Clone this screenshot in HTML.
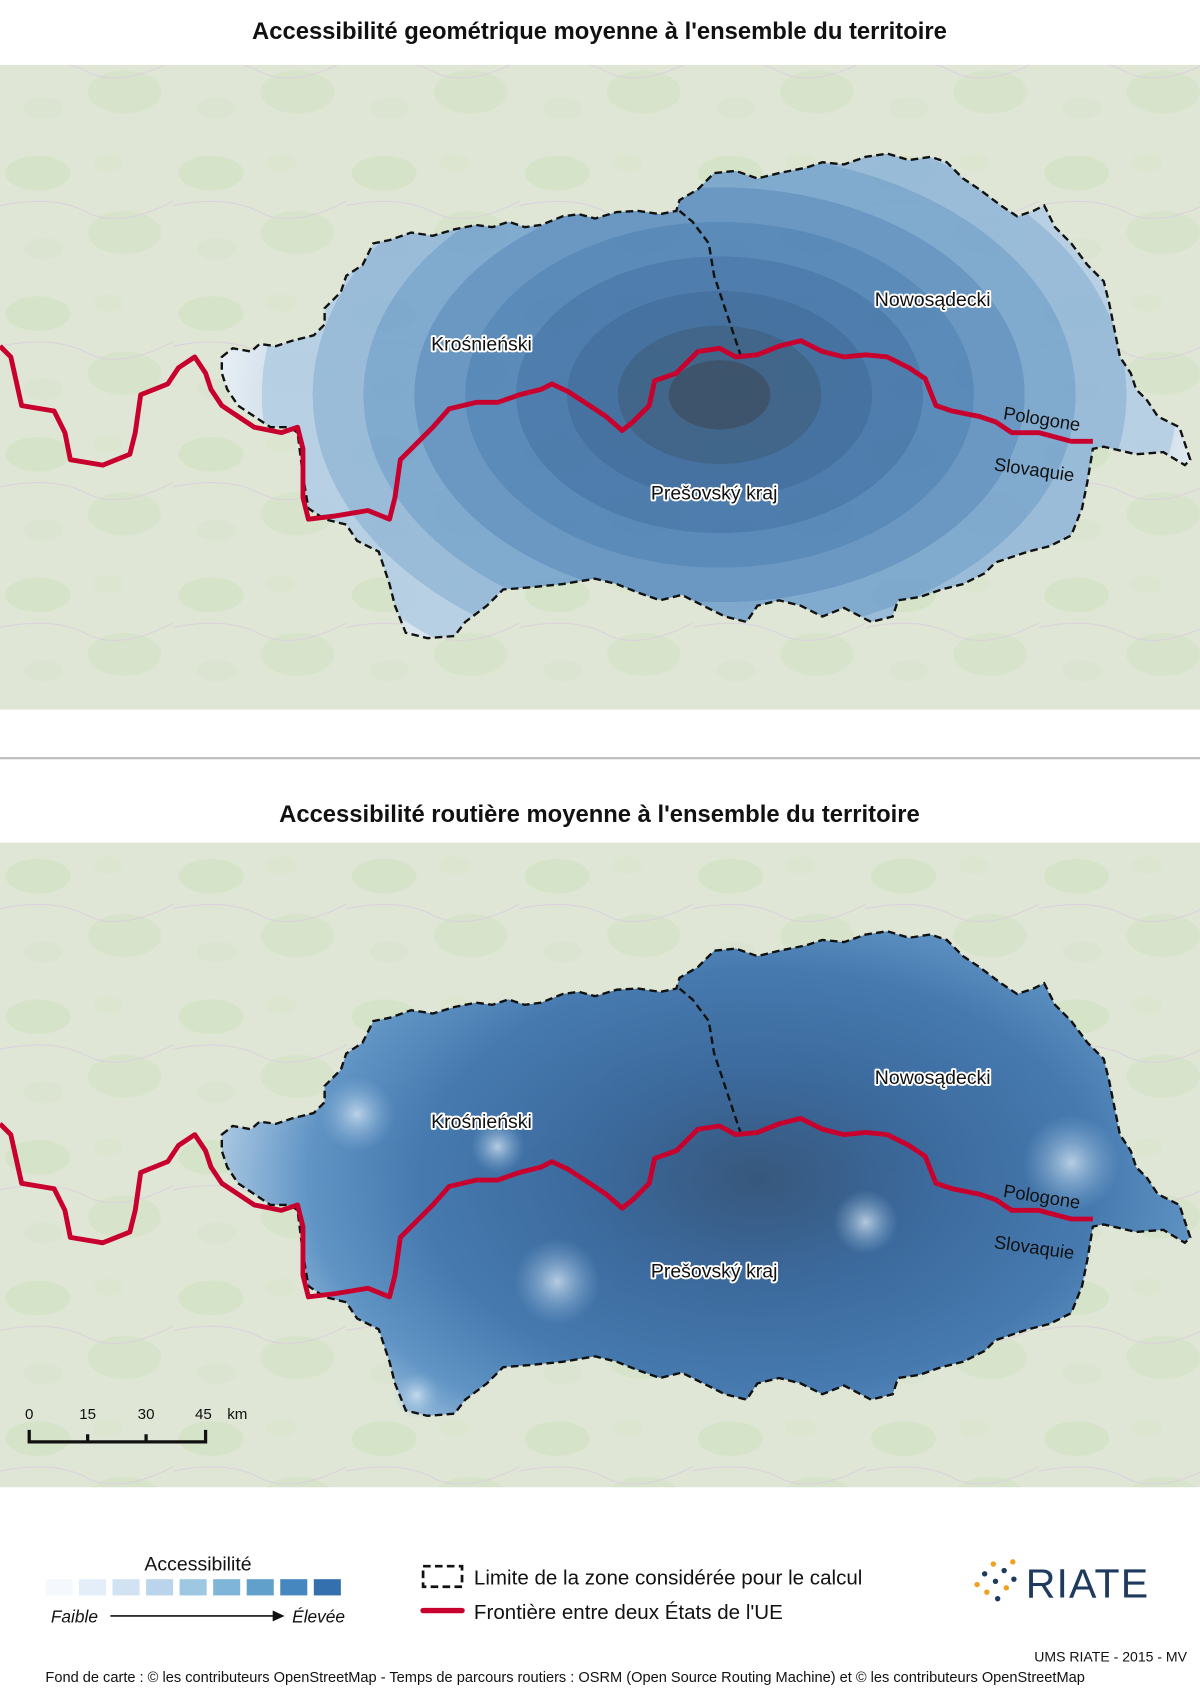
<!DOCTYPE html>
<html><head><meta charset="utf-8"><style>
html,body{margin:0;padding:0;background:#fff;}
svg{display:block;}
text{font-family:"Liberation Sans",sans-serif;}
.lbl{font-size:18px;fill:#111;stroke:#fff;stroke-width:3.5px;paint-order:stroke;stroke-linejoin:round;}
</style></head><body>
<svg id="page" width="1200" height="1696" viewBox="0 0 1109 1568" preserveAspectRatio="none" xmlns="http://www.w3.org/2000/svg">
<defs>
<radialGradient id="g1" gradientUnits="userSpaceOnUse" cx="665" cy="365" r="470" gradientTransform="translate(665 365) scale(1 0.68) translate(-665 -365)">
<stop offset="0" stop-color="#2c4462"/><stop offset="0.1" stop-color="#2c4462"/>
<stop offset="0.1" stop-color="#305882"/><stop offset="0.2" stop-color="#305882"/>
<stop offset="0.2" stop-color="#36659b"/><stop offset="0.3" stop-color="#36659b"/>
<stop offset="0.3" stop-color="#3f72a9"/><stop offset="0.4" stop-color="#3f72a9"/>
<stop offset="0.4" stop-color="#4c81b6"/><stop offset="0.5" stop-color="#4c81b6"/>
<stop offset="0.5" stop-color="#5e90c1"/><stop offset="0.6" stop-color="#5e90c1"/>
<stop offset="0.6" stop-color="#76a3cd"/><stop offset="0.7" stop-color="#76a3cd"/>
<stop offset="0.7" stop-color="#92b7d9"/><stop offset="0.8" stop-color="#92b7d9"/>
<stop offset="0.8" stop-color="#b3cde5"/><stop offset="0.9" stop-color="#b3cde5"/>
<stop offset="0.9" stop-color="#d5e3f0"/><stop offset="1" stop-color="#edf3f9"/>
</radialGradient>
<radialGradient id="g2" gradientUnits="userSpaceOnUse" cx="700" cy="1090" r="520" gradientTransform="translate(700 1090) scale(1 0.62) translate(-700 -1090)">
<stop offset="0" stop-color="#2e5078"/><stop offset="0.3" stop-color="#33639a"/>
<stop offset="0.6" stop-color="#3e74ad"/><stop offset="0.8" stop-color="#5a90c4"/>
<stop offset="1" stop-color="#b9d3ea"/>
</radialGradient>
<radialGradient id="spot"><stop offset="0" stop-color="#dceaf5" stop-opacity="0.75"/><stop offset="1" stop-color="#8fb8dc" stop-opacity="0"/></radialGradient>
<pattern id="terrain" width="160" height="130" patternUnits="userSpaceOnUse">
<rect width="160" height="130" fill="#dfe6d5"/>
<ellipse cx="35" cy="30" rx="30" ry="16" fill="#d2e1c4" opacity="0.7"/>
<ellipse cx="115" cy="85" rx="34" ry="20" fill="#d5e3c8" opacity="0.7"/>
<ellipse cx="100" cy="20" rx="14" ry="8" fill="#d8e5cc" opacity="0.6"/>
<ellipse cx="40" cy="100" rx="18" ry="10" fill="#dbe2d0" opacity="0.7"/>
<path d="M0 60 Q50 50 80 66 T160 56" stroke="#dccde0" stroke-width="0.8" fill="none"/>
</pattern>
</defs>
<text x="554" y="36" text-anchor="middle" font-size="22" font-weight="bold" fill="#111">Accessibilité geométrique moyenne à l'ensemble du territoire</text>
<rect x="0" y="60" width="1109" height="596" fill="url(#terrain)"/>
<g id="m1"></g>
<line x1="0" y1="701" x2="1109" y2="701" stroke="#bbb" stroke-width="2"/>
<text x="554" y="760" text-anchor="middle" font-size="22" font-weight="bold" fill="#111">Accessibilité routière moyenne à l'ensemble du territoire</text>
<rect x="0" y="779" width="1109" height="596" fill="url(#terrain)"/>
<g id="m2"></g>

<g font-size="14" fill="#111">
<text x="27" y="1312" text-anchor="middle">0</text><text x="81" y="1312" text-anchor="middle">15</text>
<text x="135" y="1312" text-anchor="middle">30</text><text x="188" y="1312" text-anchor="middle">45</text>
<text x="210" y="1312">km</text>
<path d="M27 1322 V1333 H190 V1322 M81 1326 V1333 M135 1326 V1333" stroke="#111" stroke-width="3" fill="none"/>
</g>

<g>
<text x="183" y="1452" text-anchor="middle" font-size="18" fill="#111">Accessibilité</text>
<g id="swatches"></g>
<text x="47" y="1500" font-size="16" font-style="italic" fill="#111">Faible</text>
<line x1="102" y1="1494" x2="255" y2="1494" stroke="#111" stroke-width="1.5"/>
<path d="M252 1489 L263 1494 L252 1499Z" fill="#111"/>
<text x="270" y="1500" font-size="16" font-style="italic" fill="#111">Élevée</text>
<rect x="391" y="1448" width="36" height="19" fill="none" stroke="#111" stroke-width="2.5" stroke-dasharray="7 4"/>
<text x="438" y="1465" font-size="19" fill="#111">Limite de la zone considérée pour le calcul</text>
<line x1="391" y1="1489" x2="427" y2="1489" stroke="#c8002d" stroke-width="5" stroke-linecap="round"/>
<text x="438" y="1497" font-size="19" fill="#111">Frontière entre deux États de l'UE</text>
</g>
<g>
<circle cx="903" cy="1465" r="2.5" fill="#f0a020"/><circle cx="910" cy="1455" r="2.5" fill="#1e3a5f"/><circle cx="912" cy="1472" r="2.5" fill="#f0a020"/>
<circle cx="918" cy="1446" r="2.5" fill="#f0a020"/><circle cx="920" cy="1462" r="2.5" fill="#1e3a5f"/><circle cx="922" cy="1478" r="2.5" fill="#1e3a5f"/>
<circle cx="928" cy="1452" r="2.5" fill="#1e3a5f"/><circle cx="930" cy="1468" r="2.5" fill="#f0a020"/><circle cx="936" cy="1444" r="2.5" fill="#f0a020"/><circle cx="937" cy="1460" r="2.5" fill="#1e3a5f"/>
<text x="948" y="1477" font-size="38" fill="#1e3a5f" letter-spacing="1">RIATE</text>
</g>
<text x="1097" y="1536" text-anchor="end" font-size="13" fill="#111">UMS RIATE - 2015 - MV</text>
<text x="42" y="1555" font-size="13.5" fill="#111">Fond de carte : © les contributeurs OpenStreetMap - Temps de parcours routiers : OSRM (Open Source Routing Machine) et © les contributeurs OpenStreetMap</text>
</svg>
<script>
const outline = [[205,330],[215,322],[232,325],[240,318],[255,320],[270,315],[290,310],[300,300],[300,285],[315,270],[320,255],[335,245],[345,225],[360,222],[380,215],[400,218],[420,212],[440,208],[455,210],[470,205],[485,210],[500,208],[520,200],[535,198],[550,202],[570,196],[590,195],[610,198],[625,195],[628,185],[645,175],[660,160],[680,158],[700,165],[720,160],[745,155],[760,150],[780,152],[800,145],[820,142],[840,148],[860,145],[875,150],[890,165],[905,175],[925,190],[940,200],[955,195],[965,190],[975,210],[990,225],[1005,245],[1020,260],[1025,280],[1030,305],[1035,330],[1045,345],[1050,360],[1060,370],[1070,385],[1090,395],[1100,425],[1095,430],[1075,418],[1050,420],[1020,413],[1010,415],[1005,445],[1000,470],[990,495],[970,505],[950,510],[920,520],[910,530],[890,540],[870,545],[850,552],[830,555],[825,570],[805,575],[780,562],[760,570],[740,560],[720,555],[700,560],[690,575],[670,570],[650,560],[630,550],[610,555],[590,548],[570,540],[550,535],[520,540],[490,543],[465,545],[450,560],[430,575],[420,588],[395,590],[375,585],[365,560],[360,540],[350,510],[330,500],[320,485],[300,480],[285,470],[280,440],[275,400],[268,395],[250,395],[235,385],[220,375],[210,360],[205,345]];
const border = [[0,320],[10,330],[20,375],[50,380],[60,400],[65,425],[95,430],[120,420],[125,400],[130,365],[155,355],[165,340],[180,330],[190,345],[195,360],[205,375],[220,385],[235,395],[260,400],[275,395],[280,415],[280,460],[285,480],[310,477],[340,472],[360,480],[365,460],[370,425],[385,410],[400,395],[415,378],[440,372],[460,372],[480,365],[500,360],[510,355],[525,362],[545,375],[560,385],[575,398],[585,390],[600,375],[605,352],[625,345],[645,325],[665,322],[680,330],[700,328],[720,320],[740,315],[760,325],[780,330],[800,328],[820,330],[840,340],[855,350],[865,375],[880,380],[905,385],[920,390],[935,400],[960,400],[990,408],[1010,408]];
const inner = [[628,195],[640,205],[655,225],[660,255],[665,270],[675,300],[685,330]];
const regionNames = ["Krośnieński","Nowosądecki","Prešovský kraj"];
const regionPos = [[445,324],[862,283],[660,462]];
const legendColors = ["#f5f9fd","#e4eef8","#d1e2f2","#bad5eb","#9ec8e2","#80b5da","#62a0cc","#4787c0","#3470ae"];
const NS='http://www.w3.org/2000/svg';
function pts(a,dy){return a.map(p=>p[0]+','+(p[1]+dy)).join(' ');}
function mk(tag,attrs,parent){const e=document.createElementNS(NS,tag);for(const k in attrs)e.setAttribute(k,attrs[k]);parent.appendChild(e);return e;}
function drawMap(gid,dy,fill,road){
  const g=document.getElementById(gid);
  let e=mk('polygon',{points:pts(outline,dy),fill:fill,'fill-opacity':road?'0.95':'0.9'},g);
  
  
  if(road){
    [[515,1185,40],[990,1075,45],[330,1030,35],[460,1060,25],[800,1130,30],[385,1290,22]].forEach(s=>{
      const c=mk('circle',{cx:s[0],cy:s[1],r:s[2],fill:'url(#spot)'},g);
      
      
    });
  }
  e=mk('polyline',{points:pts(inner,dy),fill:'none',stroke:'#111','stroke-width':2.2,'stroke-dasharray':'7 4'},g);
  
  
  e=mk('polygon',{points:pts(outline,dy),fill:'none',stroke:'#111','stroke-width':2.2,'stroke-dasharray':'7 4'},g);
  
  
  e=mk('polyline',{points:pts(border,dy),fill:'none',stroke:'#c8002d','stroke-width':4.5,'stroke-linejoin':'round'},g);
  
  
  regionNames.forEach((n,i)=>{
    const t=mk('text',{x:regionPos[i][0],y:regionPos[i][1]+dy,'text-anchor':'middle',class:'lbl'},g);
    t.textContent=n;
    
    
  });
  let t=mk('text',{x:962,y:393+dy,'text-anchor':'middle','font-size':17,fill:'#111',transform:`rotate(9 962 ${393+dy})`},g);
  t.textContent='Pologone';
  
  
  t=mk('text',{x:955,y:440+dy,'text-anchor':'middle','font-size':17,fill:'#111',transform:`rotate(8 955 ${440+dy})`},g);
  t.textContent='Slovaquie';
  
  
}
drawMap('m1',0,'url(#g1)',false);
drawMap('m2',719,'url(#g2)',true);
const sw=document.getElementById('swatches');
legendColors.forEach((c,i)=>{
  const r=mk('rect',{x:42+i*31,y:1460,width:25,height:15,fill:c},sw);
  
  
});
</script>
</body></html>
